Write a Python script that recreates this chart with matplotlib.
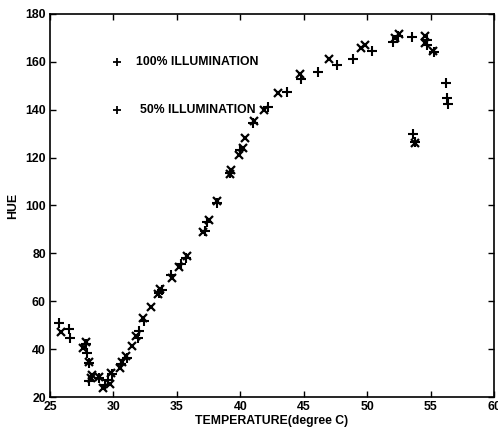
import matplotlib
matplotlib.use("Agg")
import matplotlib.pyplot as plt

plt.rcParams["font.family"] = ["Liberation Sans", "DejaVu Sans"]
plt.rcParams["font.weight"] = "bold"

# 100% illumination ('+')
temp_100 = [25.7, 26.5, 26.6, 27.8, 27.9, 28.1, 28.1, 28.9, 29.3, 29.6, 29.9,
            30.6, 31.1, 31.9, 32.0, 32.4, 33.6, 33.8, 34.5, 35.3, 35.7, 37.2,
            37.4, 38.2, 39.2, 40.0, 41.0, 42.2, 43.7, 44.8, 46.1, 47.6, 48.9,
            50.4, 52.0, 52.4, 53.5, 54.7, 54.7, 55.3, 56.2, 56.3, 56.4, 53.6,
            53.8]
hue_100 = [51, 48.5, 44.7, 42, 38.4, 34, 26.7, 28, 25, 27, 29.6,
           33.6, 36.4, 44.7, 47.5, 51.8, 63.6, 64.5, 71, 75.5, 78, 89.5,
           93, 101, 113.7, 123, 134.5, 141, 147.3, 153, 155.6, 158.5, 161,
           164.5, 168.5, 171, 170.6, 167, 169, 164, 151, 145, 142.6, 130,
           126.5]

# 50% illumination ('x')
temp_50 = [25.9, 27.6, 27.8, 28.1, 28.2, 28.3, 28.9, 29.2, 29.7, 29.8, 30.5,
           30.7, 31.0, 31.5, 31.8, 32.3, 33.0, 33.5, 33.7, 34.6, 35.2, 35.8,
           37.1, 37.5, 38.2, 39.2, 39.3, 39.9, 40.2, 40.4, 41.1, 41.9, 43.0,
           44.7, 47.0, 49.5, 49.8, 52.2, 52.5, 54.6, 54.6, 55.2, 53.8]
hue_50 = [47, 40.5, 43, 34.5, 28, 29, 28.5, 23.8, 25.4, 30, 32,
          34.5, 37, 41.3, 45.5, 52.8, 57.7, 63, 65, 69.8, 74.5, 79,
          89, 94, 102, 113, 115, 121, 124, 128, 135.5, 140, 146.8,
          155, 161, 166, 166.9, 170, 171.5, 171, 168, 164.5, 126]

fig = plt.figure(figsize=(4.98, 4.29), dpi=100)
ax = fig.add_axes([50 / 498, 1 - 397 / 429, 444 / 498, 383 / 429])

ax.plot(temp_100, hue_100, "+", color="black", ms=7, mew=1.5)
ax.plot(temp_50, hue_50, "x", color="black", ms=6, mew=1.6)

# legend as drawn in the figure
ax.plot([30.3, 30.3], [160, 140], "+", color="black", ms=5.5, mew=1.3)
ax.text(31.8, 160, "100% ILLUMINATION", fontsize=8.8, va="center")
ax.text(32.1, 140, "50% ILLUMINATION", fontsize=8.8, va="center")

ax.set_xlim(25, 60)
ax.set_ylim(20, 180)
ax.set_xticks(range(25, 61, 5))
ax.set_yticks(range(20, 181, 20))
ax.tick_params(direction="in", top=True, right=True, labelsize=8.8,
               length=4, width=1, pad=3)
for lbl in ax.get_xticklabels() + ax.get_yticklabels():
    lbl.set_fontweight("bold")
for sp in ax.spines.values():
    sp.set_linewidth(1.2)

ax.set_xlabel("TEMPERATURE(degree C)", fontsize=8.8, fontweight="bold", labelpad=1)
ax.set_ylabel("HUE", fontsize=8.8, fontweight="bold", labelpad=4)

fig.savefig("out.png", dpi=100)
